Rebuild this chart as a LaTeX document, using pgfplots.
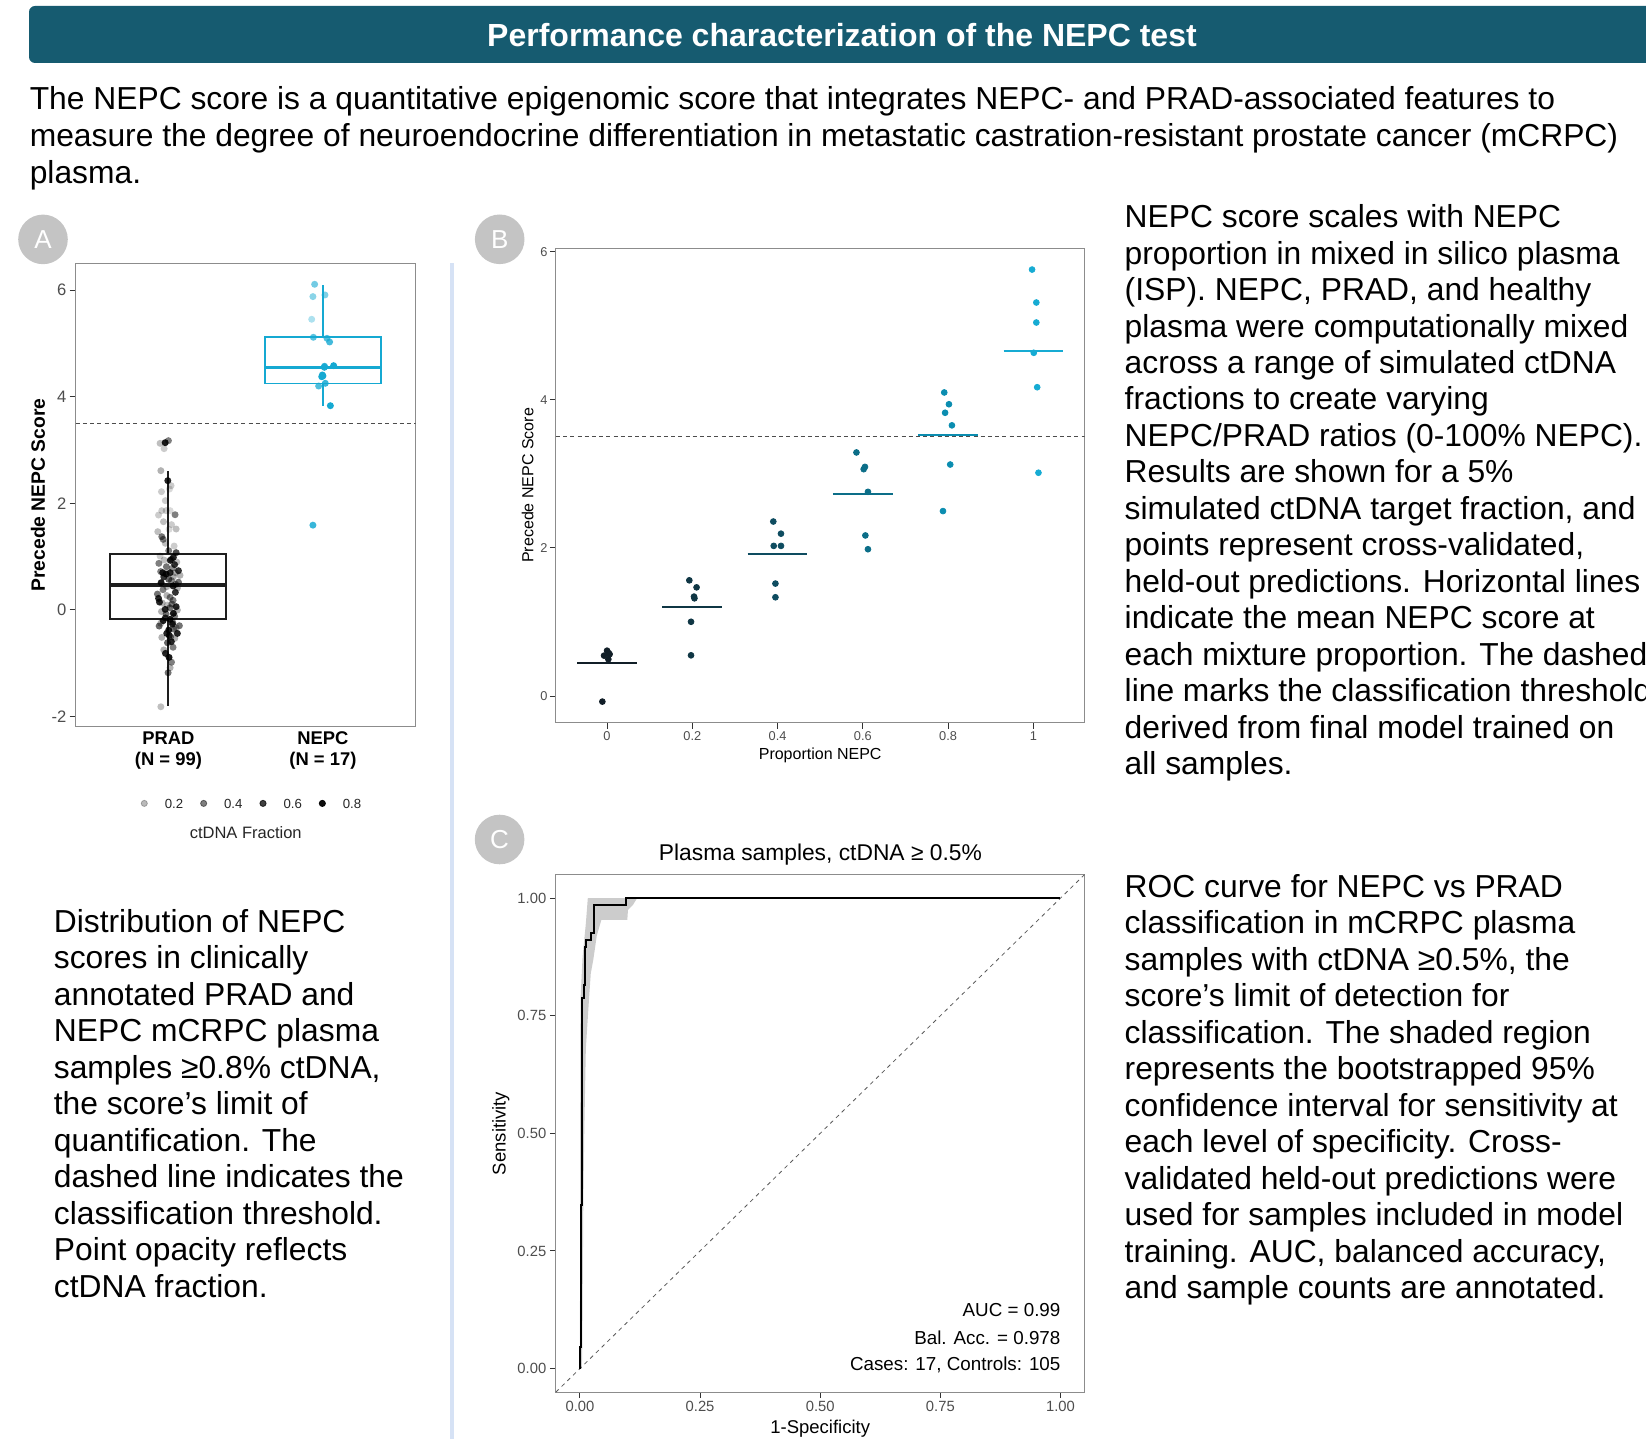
\documentclass[border=0pt]{standalone}
\usepackage{pgfplots}
\pgfplotsset{compat=1.18}
\usepackage{pgfplotstable}
\usepgfplotslibrary{statistics}
\usepackage{fontspec}
\setmainfont{Liberation Sans}

\definecolor{hdr}{HTML}{165B70}
\definecolor{sepc}{HTML}{D6E2F5}
\definecolor{nepc}{HTML}{15A9D2}
\definecolor{prad}{HTML}{1E1E1E}
\definecolor{framegray}{HTML}{8C8C8C}
\definecolor{ticklab}{HTML}{4D4D4D}
\definecolor{badge}{HTML}{C4C4C4}
\definecolor{gA}{HTML}{111E27}
\definecolor{gB}{HTML}{0F3644}
\definecolor{gC}{HTML}{0E4C60}
\definecolor{gD}{HTML}{0C6E88}
\definecolor{gE}{HTML}{0B8DB0}
\definecolor{gF}{HTML}{16ABD3}

\newcommand\bodyfont{\fontsize{15.9}{19}\selectfont}

\pgfplotstableread{
x y a
0.946 3.125 0.25
0.979 3.137 0.9
1.000 3.175 0.5
0.972 3.025 0.2
0.951 2.612 0.3
0.996 2.425 0.85
1.017 2.331 0.2
0.955 2.218 0.2
1.007 2.268 0.15
0.957 1.862 0.2
1.011 1.862 0.15
0.985 1.862 0.2
0.936 1.780 0.2
1.043 1.786 0.5
0.968 1.655 0.25
0.931 1.468 0.25
1.004 1.512 0.15
1.050 1.518 0.25
0.957 1.374 0.55
0.966 1.324 0.5
1.037 1.199 0.2
1.002 1.111 0.5
1.050 1.074 0.7
0.946 1.011 0.2
1.032 0.986 0.85
0.972 0.936 0.25
1.054 0.899 0.25
0.938 0.874 0.5
0.987 0.811 0.55
0.963 0.699 0.85
1.011 0.699 0.85
1.065 0.736 0.8
0.985 0.674 0.9
1.032 0.623 0.3
1.075 0.649 0.3
1.002 0.574 0.6
0.953 0.511 0.9
1.047 0.480 0.5
1.058 0.411 0.3
0.989 0.436 0.3
0.929 0.298 0.55
0.936 0.217 0.85
0.942 0.148 0.85
1.011 0.236 0.5
1.050 0.061 0.85
0.994 0.092 0.25
1.022 0.111 0.5
1.058 -0.002 0.3
0.979 0.011 0.85
1.032 -0.064 0.9
0.985 -0.077 0.55
1.011 -0.177 0.9
0.966 -0.202 0.85
1.028 -0.233 0.55
0.940 -0.302 0.6
1.071 -0.296 0.55
1.002 -0.377 0.9
1.050 -0.333 0.3
1.026 -0.265 0.85
1.058 -0.440 0.85
0.989 -0.440 0.85
0.957 -0.515 0.3
1.015 -0.502 0.5
1.041 -0.533 0.3
0.994 -0.615 0.6
1.019 -0.596 0.85
0.981 -0.815 0.85
1.004 -0.890 0.9
1.011 -1.084 0.3
0.998 -1.178 0.55
0.951 -1.816 0.25
1.020 0.950 0.5
1.040 0.850 0.8
1.025 0.780 0.45
0.950 0.720 0.5
1.045 0.700 0.3
0.970 0.620 0.8
1.020 0.550 0.45
1.030 0.450 0.85
0.965 0.380 0.5
1.045 0.330 0.8
0.990 0.270 0.3
1.030 0.180 0.5
0.960 0.130 0.3
1.010 0.040 0.55
0.955 -0.030 0.3
1.040 -0.120 0.5
0.980 -0.150 0.8
0.950 -0.250 0.3
1.035 -0.360 0.55
1.005 -0.480 0.8
1.030 -0.700 0.5
0.970 -0.750 0.3
1.020 -0.980 0.5
0.980 1.250 0.25
1.020 1.600 0.2
0.980 2.050 0.2
1.012 0.930 0.85
1.065 0.520 0.55
}\pradtab

\pgfplotstableread{
x y a
1.946 6.108 0.6
1.935 5.877 0.5
2.013 5.908 0.55
1.927 5.452 0.35
1.938 5.114 0.7
2.026 5.095 0.75
2.043 5.026 0.8
2.069 4.582 1.0
2.009 4.551 0.95
1.996 4.407 1.0
1.992 4.375 1.0
2.015 4.251 0.85
1.972 4.200 0.75
2.048 3.831 1.0
1.935 1.590 0.85
2.000 4.390 1.0
2.010 4.570 0.9
}\nepctab

\pgfplotsset{
  panel/.style={
    scale only axis, anchor=south west,
    axis line style={framegray, line width=0.5pt},
    tick align=outside, tick pos=left, major tick length=3pt,
    tick style={color=black!80, line width=0.5pt},
    yticklabel style={anchor=east, inner sep=0pt, text=ticklab},
    xticklabel style={anchor=north, inner sep=0pt, text=ticklab},
    /pgf/number format/assume math mode=true,
  },
  pts/.style={scatter, only marks, mark=*, forget plot,
    visualization depends on={\thisrow{a}\as\myalpha},
    scatter/@pre marker code/.code={\scope[fill opacity=\myalpha, draw opacity=0]},
    scatter/@post marker code/.code={\endscope}},
}

\begin{document}
\begin{tikzpicture}[x=0.5pt,y=-0.5pt]
\useasboundingbox (0,0) rectangle (1646,1439);

% header
\fill[hdr, rounded corners=3pt] (29,6) rectangle (1670,63);
\node[anchor=base, inner sep=0pt, text=white, font=\fontsize{16}{19}\selectfont\bfseries] at (842,46.5) {Performance characterization of the NEPC test};

% intro text
\foreach \t [count=\i from 0] in {{The NEPC score is a quantitative epigenomic score that integrates NEPC- and PRAD-associated features to},{measure the degree of neuroendocrine differentiation in metastatic castration-resistant prostate cancer (mCRPC)},{plasma.}}
  \node[anchor=base west, inner sep=0pt, font=\bodyfont] at (29.4,110+36.8*\i) {\t};

% separator
\fill[sepc] (450,263) rectangle (454,1439);

% badges
\foreach \l/\cx/\cy in {A/43/239.4, B/499.7/239.3, C/499.6/839.5}{
  \fill[badge] (\cx,\cy) circle (12.4pt);
  \node[text=white, inner sep=0pt, font=\fontsize{13}{13}\selectfont] at (\cx,\cy) {\l};
}

% ---------------- Panel A ----------------
\begin{axis}[panel,
  at={(37.85pt,-363.35pt)}, width=170pt, height=231.65pt,
  xmin=0.4, xmax=2.6, ymin=-2.19, ymax=6.5,
  xtick={1,2}, xtick style={draw=none},
  xticklabels={{\textbf{PRAD}\\\textbf{(N = 99)}},{\textbf{NEPC}\\\textbf{(N = 17)}}},
  xticklabel style={align=center, text=black, font=\fontsize{9.2}{10.4}\selectfont, yshift=0.5pt},
  ytick={-2,0,2,4,6}, yticklabels={-2,0,2,4,6},
  yticklabel style={font=\fontsize{8.3}{9}\selectfont, xshift=-1.5pt},
  boxplot/draw direction=y,
  boxplot/every median/.style={line width=2pt},
  legend columns=4,
  legend image code/.code={\fill[#1] (0pt,0.8pt) circle (1.55pt);},
  legend style={at={(0.1915,-0.169)}, anchor=west, draw=none, fill=none,
    inner sep=0pt, outer sep=0pt, text=black!85,
    font=\fontsize{6.6}{7}\selectfont, nodes={inner sep=0pt},
    /tikz/every odd column/.style={column sep=8.5pt},
    /tikz/every even column/.style={column sep=8.5pt}},
]
\addplot[forget plot, draw=black!70, dash pattern=on 2pt off 1.6pt, line width=0.5pt] coordinates {(0.4,3.5) (2.6,3.5)};
\addplot[forget plot, draw=prad, line width=1pt,
  boxplot prepared={draw position=1, box extend=0.75, median=0.467,
    upper quartile=1.043, lower quartile=-0.171,
    upper whisker=2.61, lower whisker=-1.80, whisker extend=0}] coordinates {};
\addplot[forget plot, draw=nepc, line width=0.8pt,
  boxplot/every median/.style={line width=1.6pt},
  boxplot prepared={draw position=2, box extend=0.75, median=4.551,
    upper quartile=5.114, lower quartile=4.251,
    upper whisker=6.096, lower whisker=3.831, whisker extend=0}] coordinates {};
\addplot[pts, color=black, mark size=1.75pt] table[x=x,y=y] {\pradtab};
\addplot[pts, color=nepc, mark size=1.75pt] table[x=x,y=y] {\nepctab};
\addlegendimage{black, opacity=0.27}\addlegendentry{0.2}
\addlegendimage{black, opacity=0.5}\addlegendentry{0.4}
\addlegendimage{black, opacity=0.75}\addlegendentry{0.6}
\addlegendimage{black, opacity=0.95}\addlegendentry{0.8}
\end{axis}
\node[rotate=90, inner sep=0pt, font=\fontsize{9.65}{10}\selectfont\bfseries] at (38,495) {Precede NEPC Score};
\node[inner sep=0pt, text=black!85, font=\fontsize{8.25}{9}\selectfont] at (245.7,833) {ctDNA Fraction};

% ---------------- Panel B ----------------
\begin{axis}[panel,
  at={(277.95pt,-361.35pt)}, width=264.3pt, height=237.3pt,
  xmin=-0.12, xmax=1.12, ymin=-0.36, ymax=6.05,
  xtick={0,0.2,0.4,0.6,0.8,1}, xticklabels={0,0.2,0.4,0.6,0.8,1},
  ytick={0,2,4,6}, yticklabels={0,2,4,6},
  xticklabel style={font=\fontsize{6.4}{7}\selectfont, yshift=-1.2pt},
  yticklabel style={font=\fontsize{6.4}{7}\selectfont, xshift=-1pt},
]
\addplot[draw=black!70, dash pattern=on 2pt off 1.6pt, line width=0.5pt] coordinates {(-0.12,3.5) (1.12,3.5)};
\addplot[only marks, mark=*, mark size=1.45pt, gA] coordinates {(0.000,0.613) (-0.007,0.546) (0.006,0.565) (0.003,0.497) (-0.011,-0.075) (0.004,0.58)};
\addplot[only marks, mark=*, mark size=1.45pt, gB] coordinates {(0.193,1.563) (0.210,1.468) (0.204,1.343) (0.205,1.320) (0.197,1.003) (0.197,0.550)};
\addplot[only marks, mark=*, mark size=1.45pt, gC] coordinates {(0.390,2.357) (0.408,2.193) (0.391,2.028) (0.408,2.028) (0.395,1.519) (0.395,1.334)};
\addplot[only marks, mark=*, mark size=1.45pt, gD] coordinates {(0.585,3.290) (0.605,3.095) (0.602,3.064) (0.612,2.758) (0.606,2.169) (0.612,1.983)};
\addplot[only marks, mark=*, mark size=1.45pt, gE] coordinates {(0.791,4.100) (0.802,3.941) (0.793,3.826) (0.809,3.656) (0.805,3.127) (0.788,2.498)};
\addplot[only marks, mark=*, mark size=1.45pt, gF] coordinates {(0.997,5.760) (1.007,5.315) (1.007,5.045) (1.001,4.636) (1.009,4.171) (1.012,3.016)};
\addplot[gA, line width=1pt] coordinates {(-0.07,0.451) (0.07,0.451)};
\addplot[gB, line width=1pt] coordinates {(0.13,1.209) (0.27,1.209)};
\addplot[gC, line width=1pt] coordinates {(0.33,1.914) (0.47,1.914)};
\addplot[gD, line width=1pt] coordinates {(0.53,2.726) (0.67,2.726)};
\addplot[gE, line width=1pt] coordinates {(0.73,3.525) (0.87,3.525)};
\addplot[gF, line width=1pt] coordinates {(0.93,4.662) (1.07,4.662)};
\end{axis}
\node[rotate=90, inner sep=0pt, font=\fontsize{8}{9}\selectfont] at (527.6,485.4) {Precede NEPC Score};
\node[anchor=base, inner sep=0pt, font=\fontsize{8}{9}\selectfont] at (820.2,759.4) {Proportion NEPC};

% ---------------- Panel C ----------------
\begin{axis}[panel,
  at={(277.95pt,-696.05pt)}, width=264.3pt, height=258.75pt,
  xmin=-0.05, xmax=1.05, ymin=-0.05, ymax=1.05,
  xtick={0,0.25,0.5,0.75,1}, xticklabels={0.00,0.25,0.50,0.75,1.00},
  ytick={0,0.25,0.5,0.75,1}, yticklabels={0.00,0.25,0.50,0.75,1.00},
  xticklabel style={font=\fontsize{7.4}{8}\selectfont, yshift=-1.3pt},
  yticklabel style={font=\fontsize{7.4}{8}\selectfont, xshift=-1.6pt},
]
\addplot[fill=gray!40, draw=none] coordinates {
 (0,0) (0.0005,0.5) (0.001,0.7) (0.0015,0.79) (0.0055,0.875) (0.0123,0.946) (0.0164,1.0)
 (0.119,1.0) (0.11,0.985) (0.1,0.975) (0.0986,0.954) (0.0447,0.954) (0.035,0.92)
 (0.028,0.87) (0.0226,0.84) (0.0192,0.79) (0.0123,0.68) (0.009,0.5) (0.007,0.35)
 (0.005,0.05) (0.004,0)} -- cycle;
\addplot[draw=black!65, dash pattern=on 2pt off 2pt, line width=0.4pt] coordinates {(-0.05,-0.05) (1.05,1.05)};
\addplot[black, line width=1pt] coordinates {
 (0,0) (0,0.046) (0.0017,0.046) (0.0017,0.348) (0.004,0.348) (0.004,0.787)
 (0.0075,0.787) (0.0075,0.815) (0.0105,0.815) (0.0105,0.896) (0.013,0.896)
 (0.013,0.911) (0.0226,0.911) (0.0226,0.926) (0.0296,0.926) (0.0296,0.985)
 (0.0965,0.985) (0.0965,1.0) (1.0,1.0)};
\end{axis}
\node[anchor=base, inner sep=0pt, font=\fontsize{11.4}{13}\selectfont] at (820.4,860.3) {Plasma samples, ctDNA ≥ 0.5\%};
\node[rotate=90, inner sep=0pt, font=\fontsize{9.25}{10}\selectfont] at (500.8,1133.4) {Sensitivity};
\node[anchor=base, inner sep=0pt, font=\fontsize{9.25}{10}\selectfont] at (820.2,1433.7) {1-Specificity};
\node[anchor=base east, inner sep=0pt, font=\fontsize{9.4}{10}\selectfont] at (1060.8,1316.7) {AUC = 0.99};
\node[anchor=base east, inner sep=0pt, font=\fontsize{9.4}{10}\selectfont] at (1060.8,1344.4) {Bal. Acc. = 0.978};
\node[anchor=base east, inner sep=0pt, font=\fontsize{9.4}{10}\selectfont] at (1060.8,1370.5) {Cases: 17, Controls: 105};

% ---------------- Side texts ----------------
\foreach \t [count=\i from 0] in {{NEPC score scales with NEPC},{proportion in mixed in silico plasma},{(ISP). NEPC, PRAD, and healthy},{plasma were computationally mixed},{across a range of simulated ctDNA},{fractions to create varying},{NEPC/PRAD ratios (0-100\% NEPC).},{Results are shown for a 5\%},{simulated ctDNA target fraction, and},{points represent cross-validated,},{held-out predictions. Horizontal lines},{indicate the mean NEPC score at},{each mixture proportion. The dashed},{line marks the classification threshold},{derived from final model trained on},{all samples.}}
  \node[anchor=base west, inner sep=0pt, font=\bodyfont] at (1124.3,227.7+36.46*\i) {\t};

\foreach \t [count=\i from 0] in {{ROC curve for NEPC vs PRAD},{classification in mCRPC plasma},{samples with ctDNA ≥0.5\%, the},{score’s limit of detection for},{classification. The shaded region},{represents the bootstrapped 95\%},{confidence interval for sensitivity at},{each level of specificity. Cross-},{validated held-out predictions were},{used for samples included in model},{training. AUC, balanced accuracy,},{and sample counts are annotated.}}
  \node[anchor=base west, inner sep=0pt, font=\bodyfont] at (1124.3,897.4+36.46*\i) {\t};

\foreach \t [count=\i from 0] in {{Distribution of NEPC},{scores in clinically},{annotated PRAD and},{NEPC mCRPC plasma},{samples ≥0.8\% ctDNA,},{the score’s limit of},{quantification. The},{dashed line indicates the},{classification threshold.},{Point opacity reflects},{ctDNA fraction.}}
  \node[anchor=base west, inner sep=0pt, font=\bodyfont] at (53.5,932+36.5*\i) {\t};

\end{tikzpicture}
\end{document}
